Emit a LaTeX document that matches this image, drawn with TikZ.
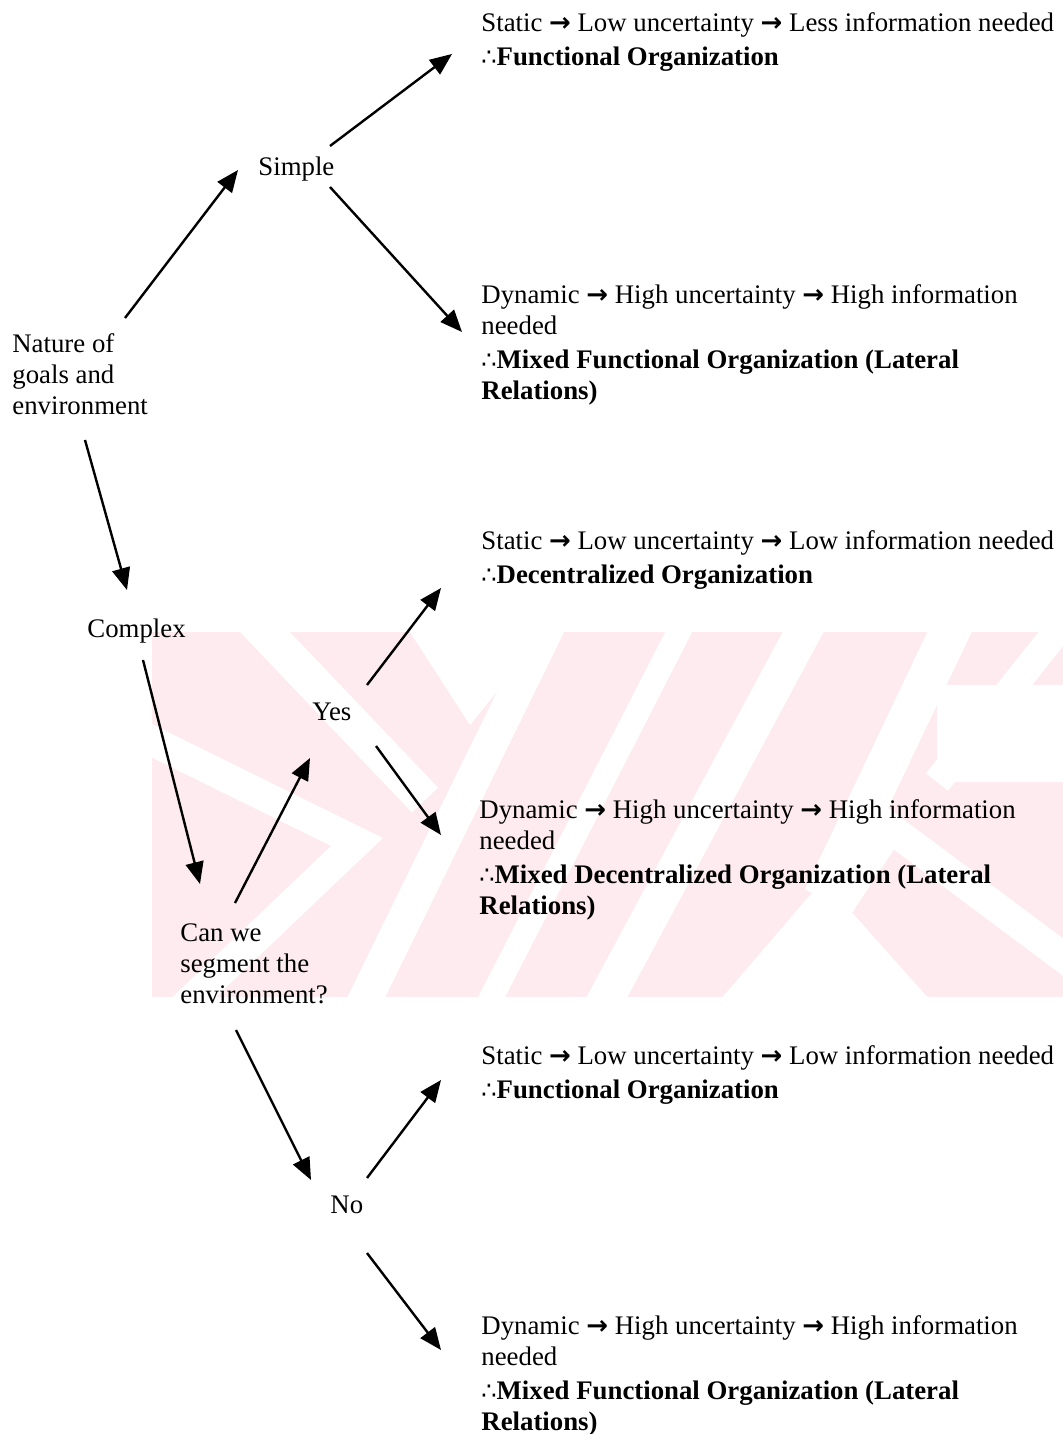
\documentclass[tikz,border=0pt]{standalone}
\usepackage{fontspec}
\setmainfont{Liberation Serif}
\newfontfamily\dvsans{DejaVu Sans}
\usetikzlibrary{arrows.meta}

\definecolor{wmpink}{RGB}{253,235,239}

% body text size and the two symbols used in the outcome lines
\newcommand{\diagfont}{\fontsize{13.4pt}{15.5pt}\selectfont}
\newcommand{\rarr}{{\dvsans\bfseries\fontsize{13pt}{13pt}\selectfont →}}
\newcommand{\ths}{{\dvsans\mdseries\fontsize{12pt}{12pt}\selectfont ∴}}

\begin{document}
\begin{tikzpicture}[
  x=0.5pt, y=-0.5pt,
  txt/.style={anchor=base west, inner sep=0pt, align=left, font=\diagfont},
  arr/.style={-{Triangle[length=11pt,width=9pt]}, line width=1.2pt},
  gap/.style={white, line width=#1},
]
\useasboundingbox (0,0) rectangle (1063,1434);
\fill[white] (0,0) rectangle (1063,1434);

% pale striped band behind the middle of the page
\begin{scope}
  \clip (152,632) rectangle (1063,997);
  \fill[wmpink] (152,632) rectangle (1063,997);
  \draw[gap=18pt] (225,590) -- (425,800);
  \draw[gap=15pt] (130,730) -- (357,842) -- (170,1020);
  \fill[white] (410,632) -- (470,725) -- (545,632) -- cycle;
  \draw[gap=17pt] (556,610) -- (360,1010);
  \draw[gap=12pt] (690,610) -- (485,1010);
  \draw[gap=18pt] (815,610) -- (600,1010);
  \draw[gap=20pt] (960,610) -- (823,898);
  \fill[white] (823,880) -- (720,1000) -- (930,1000) -- cycle;
  \draw[gap=14pt] (1070,615) -- (937,782);
  \fill[white] (937,685) -- (1063,685) -- (1063,782) -- (937,782) -- cycle;
  \draw[gap=15pt] (770,1010) -- (890,828) -- (1075,966);
\end{scope}

% decision labels (anchored at the baseline of their last line)
\node[txt] (nat)     at (12,414)  {Nature of\\goals and\\environment};
\node[txt] (simple)  at (258,176) {Simple};
\node[txt] (complex) at (87,637)  {Complex};
\node[txt] (yes)     at (312,720) {Yes};
\node[txt] (canwe)   at (180,1003) {Can we\\segment the\\environment?};
\node[txt] (no)      at (330,1213){No};

% outcome blocks
\node[txt] (b1) at (481,66) {Static \rarr{} Low uncertainty \rarr{} Less information needed\\[1.5pt]
  \ths\textbf{Functional Organization}};
\node[txt] (b2) at (481,399) {Dynamic \rarr{} High uncertainty \rarr{} High information\\needed\\[1.5pt]
  \ths\textbf{Mixed Functional Organization (Lateral}\\\textbf{Relations)}};
\node[txt] (b3) at (481,583) {Static \rarr{} Low uncertainty \rarr{} Low information needed\\[1.5pt]
  \ths\textbf{Decentralized Organization}};
\node[txt] (b4) at (479,914) {Dynamic \rarr{} High uncertainty \rarr{} High information\\needed\\[1.5pt]
  \ths\textbf{Mixed Decentralized Organization (Lateral}\\\textbf{Relations)}};
\node[txt] (b5) at (481,1098) {Static \rarr{} Low uncertainty \rarr{} Low information needed\\[1.5pt]
  \ths\textbf{Functional Organization}};
\node[txt] (b6) at (481,1430) {Dynamic \rarr{} High uncertainty \rarr{} High information\\needed\\[1.5pt]
  \ths\textbf{Mixed Functional Organization (Lateral}\\\textbf{Relations)}};

% connectors
\draw[arr] ([shift={(113,-96)}]nat.base west)    -- ([shift={(-20,-6)}]simple.base west);
\draw[arr] ([shift={(72,-30)}]simple.base west)  -- ([shift={(-29,-12)}]b1.base west);
\draw[arr] ([shift={(72,11)}]simple.base west)   -- ([shift={(-19,-67)}]b2.base west);
\draw[arr] ([shift={(73,26)}]nat.base west)      -- ([shift={(40,-47)}]complex.base west);
\draw[arr] ([shift={(56,23)}]complex.base west)  -- ([shift={(20,-119)}]canwe.base west);
\draw[arr] ([shift={(55,-100)}]canwe.base west)  -- ([shift={(-2,38)}]yes.base west);
\draw[arr] ([shift={(55,-35)}]yes.base west)     -- ([shift={(-40,5)}]b3.base west);
\draw[arr] ([shift={(64,26)}]yes.base west)      -- ([shift={(-38,-79)}]b4.base west);
\draw[arr] ([shift={(56,27)}]canwe.base west)    -- ([shift={(-19,-33)}]no.base west);
\draw[arr] ([shift={(37,-35)}]no.base west)      -- ([shift={(-40,-18)}]b5.base west);
\draw[arr] ([shift={(37,40)}]no.base west)       -- ([shift={(-40,-80)}]b6.base west);
\end{tikzpicture}
\end{document}
